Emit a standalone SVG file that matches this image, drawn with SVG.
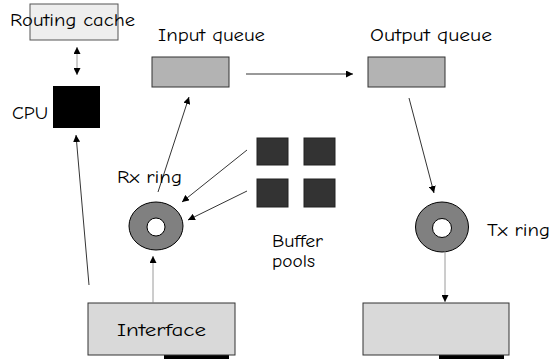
<svg xmlns="http://www.w3.org/2000/svg" width="553" height="359" viewBox="0 0 553 359">
  <style>
    text { font-family: "Comic Sans MS", "Comic Neue", "DejaVu Sans", sans-serif; font-size: 18px; fill: #000; }
    .queue { fill: #b3b3b3; stroke: #333; stroke-width: 1; }
    .buf { fill: #333; stroke: #222; stroke-width: 1; }
    .port { fill: #d9d9d9; stroke: #333; stroke-width: 1; }
    .ring { fill: #808080; stroke: #000; stroke-width: 1; }
    .hole { fill: #fff; stroke: #000; stroke-width: 1; }
    .link { stroke: #000; stroke-width: 0.8; fill: none; }
    .grey { stroke: #808080; }
  </style>
  <defs>
    <marker id="head" viewBox="0 0 10 10" refX="10" refY="5" markerWidth="7" markerHeight="7" markerUnits="userSpaceOnUse" orient="auto-start-reverse">
      <path d="M0,0 L10,5 L0,10 z" fill="#000"/>
    </marker>
  </defs>

  <g id="routing-cache">
    <rect x="30" y="4" width="88" height="36" fill="#eeeeee" stroke="#555" stroke-width="1"/>
    <text x="10" y="26" textLength="125" lengthAdjust="spacingAndGlyphs">Routing cache</text>
  </g>

  <g id="cpu">
    <rect x="53" y="86" width="47" height="42" fill="#000"/>
    <text x="12" y="119" textLength="36" lengthAdjust="spacingAndGlyphs">CPU</text>
  </g>

  <g id="input-queue">
    <rect class="queue" x="152" y="57" width="77" height="30"/>
    <text x="158" y="41" textLength="107" lengthAdjust="spacingAndGlyphs">Input queue</text>
  </g>

  <g id="output-queue">
    <rect class="queue" x="368" y="57" width="77" height="30"/>
    <text x="370" y="41" textLength="122" lengthAdjust="spacingAndGlyphs">Output queue</text>
  </g>

  <g id="buffer-pools">
    <rect class="buf" x="257" y="138" width="31" height="27"/>
    <rect class="buf" x="304" y="138" width="31" height="27"/>
    <rect class="buf" x="257" y="179" width="31" height="28"/>
    <rect class="buf" x="304" y="179" width="31" height="28"/>
    <text x="272" y="247" textLength="51" lengthAdjust="spacingAndGlyphs">Buffer</text>
    <text x="272" y="267" textLength="43" lengthAdjust="spacingAndGlyphs">pools</text>
  </g>

  <g id="rx-ring">
    <ellipse class="ring" cx="156" cy="226" rx="27" ry="24"/>
    <circle class="hole" cx="156" cy="227" r="9"/>
    <text x="117" y="183" textLength="65" lengthAdjust="spacingAndGlyphs">Rx ring</text>
  </g>

  <g id="tx-ring">
    <ellipse class="ring" cx="442" cy="227" rx="26.5" ry="25"/>
    <circle class="hole" cx="442" cy="228" r="9.5"/>
    <text x="487" y="236" textLength="63" lengthAdjust="spacingAndGlyphs">Tx ring</text>
  </g>

  <g id="interface">
    <rect x="164" y="354" width="65" height="5" fill="#000"/>
    <rect class="port" x="88" y="303" width="147" height="52"/>
    <text x="117" y="336" textLength="89" lengthAdjust="spacingAndGlyphs">Interface</text>
  </g>

  <g id="output-interface">
    <rect x="439" y="354" width="65" height="5" fill="#000"/>
    <rect class="port" x="363" y="303" width="146" height="52"/>
  </g>

  <g id="connectors">
    <!-- cache <-> CPU -->
    <line class="link grey" x1="77" y1="47" x2="77" y2="75" marker-start="url(#head)" marker-end="url(#head)"/>
    <!-- interface -> CPU -->
    <line class="link" x1="89" y1="285" x2="76" y2="135" marker-end="url(#head)"/>
    <!-- Rx ring -> input queue -->
    <line class="link" x1="158" y1="192" x2="189" y2="97" marker-end="url(#head)"/>
    <!-- input queue -> output queue -->
    <line class="link" x1="246" y1="74" x2="353" y2="74" marker-end="url(#head)"/>
    <!-- output queue -> Tx ring -->
    <line class="link" x1="409" y1="98" x2="434" y2="193" marker-end="url(#head)"/>
    <!-- buffer pools -> Rx ring -->
    <line class="link" x1="247" y1="150" x2="182" y2="202" marker-end="url(#head)"/>
    <line class="link" x1="247" y1="191" x2="188" y2="220" marker-end="url(#head)"/>
    <!-- interface -> Rx ring -->
    <line class="link grey" x1="153" y1="303" x2="153" y2="256" stroke-width="1" marker-end="url(#head)"/>
    <!-- Tx ring -> output interface -->
    <line class="link grey" x1="445" y1="251" x2="445" y2="302" stroke-width="2" marker-end="url(#head)"/>
  </g>
</svg>
